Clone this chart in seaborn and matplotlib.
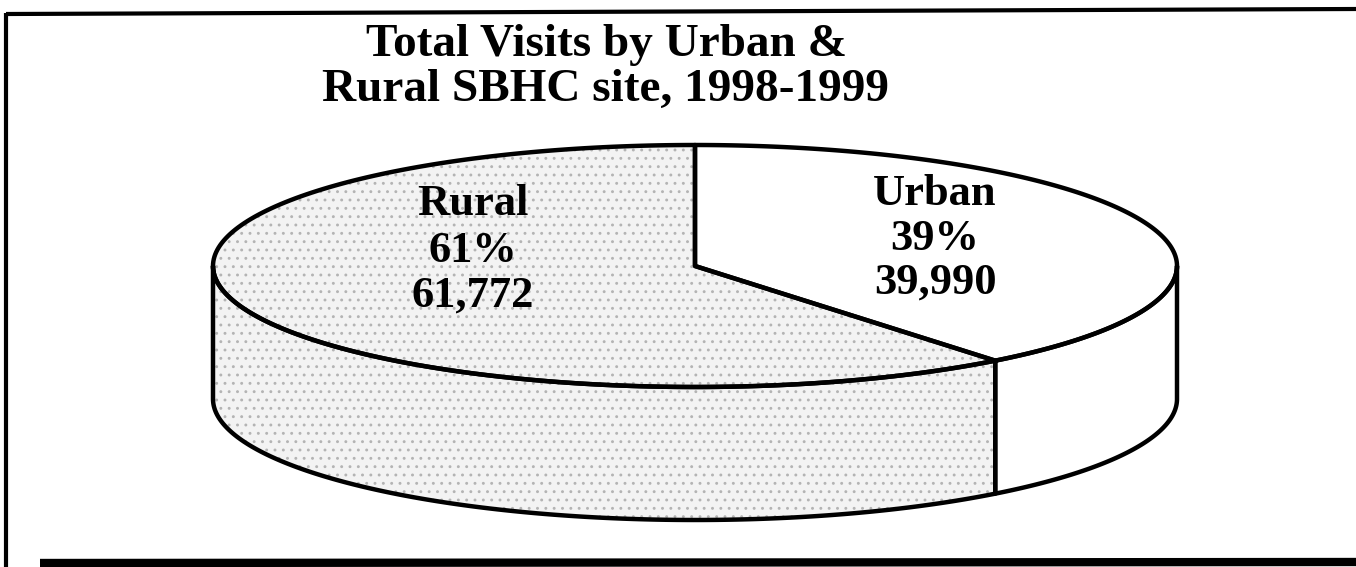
import numpy as np
import matplotlib
matplotlib.use("Agg")
import matplotlib.pyplot as plt
import seaborn as sns
from matplotlib.patches import Polygon

# ---- data ----
categories = ["Rural", "Urban"]
visits = [61772, 39990]
percents = [61, 39]
title_lines = ["Total Visits by Urban &", "Rural SBHC site, 1998-1999"]

sns.set_theme(style="white")
plt.rcParams["font.family"] = ["Liberation Serif", "DejaVu Serif"]
plt.rcParams["hatch.linewidth"] = 0.9

fig = plt.figure(figsize=(13.56, 5.67), dpi=100)
ax = fig.add_axes([0, 0, 1, 1])
ax.set_xlim(0, 1356)
ax.set_ylim(567, 0)
ax.axis("off")

# geometry of the 3-D pie (layout, not data)
cx, cy, a, b, depth = 695, 266, 482, 121, 133
fills = {"Rural": "#f3f3f3", "Urban": "white"}
hatches = {"Rural": "..", "Urban": None}
lw = 3.2

def pt(t, dz=0.0):
    r = np.radians(t)
    return cx + a * np.cos(r), cy - b * np.sin(r) + dz

def arc(t1, t2, dz=0.0, n=200):
    ts = np.linspace(t1, t2, n)
    return [pt(t, dz) for t in ts]

shares = np.array(visits, dtype=float) / np.sum(visits)
starts, ends = [], []
cur = 90.0
for s in shares:
    starts.append(cur)
    ends.append(cur + 360 * s)
    cur += 360 * s

# side walls (visible where 180 < t < 360)
for cat, t1, t2 in zip(categories, starts, ends):
    for off in (0, 360, -360):
        lo = max(t1 + off, 180)
        hi = min(t2 + off, 360)
        if hi > lo:
            pts = arc(lo, hi) + arc(hi, lo, depth)
            ax.add_patch(Polygon(pts, closed=True, facecolor=fills[cat],
                                 edgecolor="#b4b4b4" if hatches[cat] else "none",
                                 hatch=hatches[cat], lw=0, zorder=1))
            ax.add_patch(Polygon(pts, closed=True, facecolor="none",
                                 edgecolor="black", lw=lw, joinstyle="round", zorder=3))

# top faces
for cat, t1, t2 in zip(categories, starts, ends):
    pts = [(cx, cy)] + arc(t1, t2)
    ax.add_patch(Polygon(pts, closed=True, facecolor=fills[cat],
                         edgecolor="#b4b4b4" if hatches[cat] else "none",
                         hatch=hatches[cat], lw=0, zorder=2))
    ax.add_patch(Polygon(pts, closed=True, facecolor="none",
                         edgecolor="black", lw=lw, joinstyle="round", zorder=4))

# labels
label_pos = {"Rural": (473, [215, 262, 307]), "Urban": (935, [205, 250, 294])}
for cat, p, v in zip(categories, percents, visits):
    x, ys = label_pos[cat]
    for txt, y in zip([cat, f"{p}%", f"{v:,}"], ys):
        ax.text(x, y, txt, ha="center", va="baseline", fontsize=32,
                fontweight="bold", color="black", zorder=6)

# title
for txt, y in zip(title_lines, [56, 101]):
    ax.text(606, y, txt, ha="center", va="baseline", fontsize=34,
            fontweight="bold", color="black", zorder=6)

# frame lines
ax.plot([6, 1356], [14, 9], color="black", lw=3, solid_capstyle="butt")
ax.plot([6, 6], [13, 567], color="black", lw=3, solid_capstyle="butt")
ax.plot([40, 1356], [563, 562], color="black", lw=6, solid_capstyle="butt")

fig.savefig("out.png", dpi=100)
